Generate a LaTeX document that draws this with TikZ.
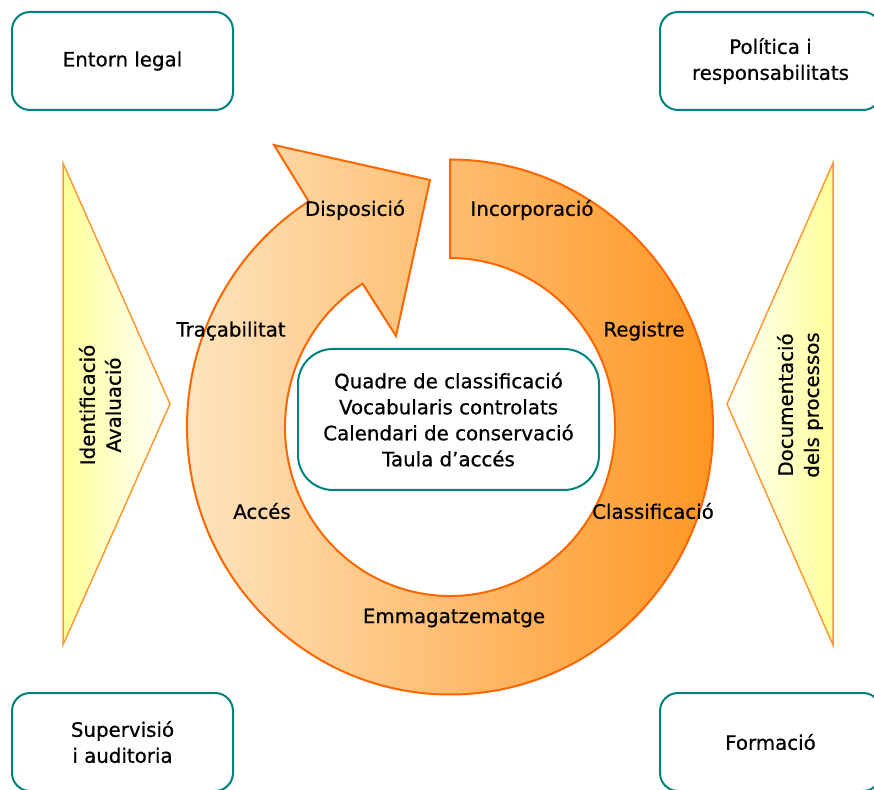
\documentclass[tikz,border=0pt]{standalone}
\usepackage{fontspec}
\setmainfont{DejaVu Sans}[FakeBold=0.6]
\usepackage{tikz}
\usetikzlibrary{shadings}
\usepackage{xcolor}

\definecolor{caixavora}{RGB}{0,130,127}
\definecolor{taronja}{RGB}{255,102,0}
\definecolor{tarclar}{RGB}{254,228,190}
\definecolor{tarmig}{RGB}{252,200,145}
\definecolor{tarfosc}{RGB}{255,150,35}
\definecolor{groc}{RGB}{255,255,153}
\definecolor{trivora}{RGB}{255,153,51}

\begin{document}
\begin{tikzpicture}[x=1pt,y=1pt,
  caixa/.style={draw=caixavora,line width=2pt,rounded corners=18pt,fill=white,
    minimum width=221pt,minimum height=98pt,align=center},
  tri/.style={draw=trivora,line width=1.5pt}]

\tikzstyle{every node}=[font=\fontsize{19.8}{26}\selectfont]

\useasboundingbox (0,0) rectangle (874,789);

\def\trie{(63,626) coordinate (te) -- (63,144) -- (170,385) -- cycle}
\def\trid{(833,626) coordinate (td) -- (833,144) -- (727,385) -- cycle}
\def\anell{(450,629.5) coordinate (c) arc[start angle=90,end angle=-237.5,x radius=263pt,y radius=267.5pt]
  -- (274,644) -- (430,609) -- (396,453) -- (362.56,505.32)
  arc[start angle=122,end angle=450,x radius=165pt,y radius=169pt] -- cycle}

% triangles laterals
\draw[tri,left color=groc,right color=white] \trie;
\draw[tri,left color=white,right color=groc] \trid;
\node[rotate=90,align=center] (ident) at (100,384) {Identificació\\Avaluació};
\node[rotate=90,align=center] (docu) at (800,384) {Documentació\\dels processos};

% cicle
\draw[draw=taronja,line width=2pt,left color=tarclar,middle color=tarmig,right color=tarfosc] \anell;

\node[caixa,minimum width=301pt,minimum height=141pt,rounded corners=35pt] (eines) at (448.5,369.5)
  {Quadre de classificació\\Vocabularis controlats\\Calendari de conservació\\Taula d’accés};

\node (disp) at (355,579) {Disposició};
\node (incorp) at (532,579) {Incorporació};
\node (traca) at (231,458) {Traçabilitat};
\node (regis) at (644,458) {Registre};
\node (acces) at (262,278) {Accés};
\node (classif) at (653,278) {Classificació};
\node (emmag) at (454,171) {Emmagatzematge};

% caixes de les cantonades
\node[caixa] (legal) at (122.5,728) {Entorn legal};
\node[caixa] (polit) at (770.5,728) {Política i\\responsabilitats};
\node[caixa] (super) at (122.5,47) {Supervisió\\i auditoria};
\node[caixa] (forma) at (770.5,47) {Formació};
\end{tikzpicture}
\end{document}
